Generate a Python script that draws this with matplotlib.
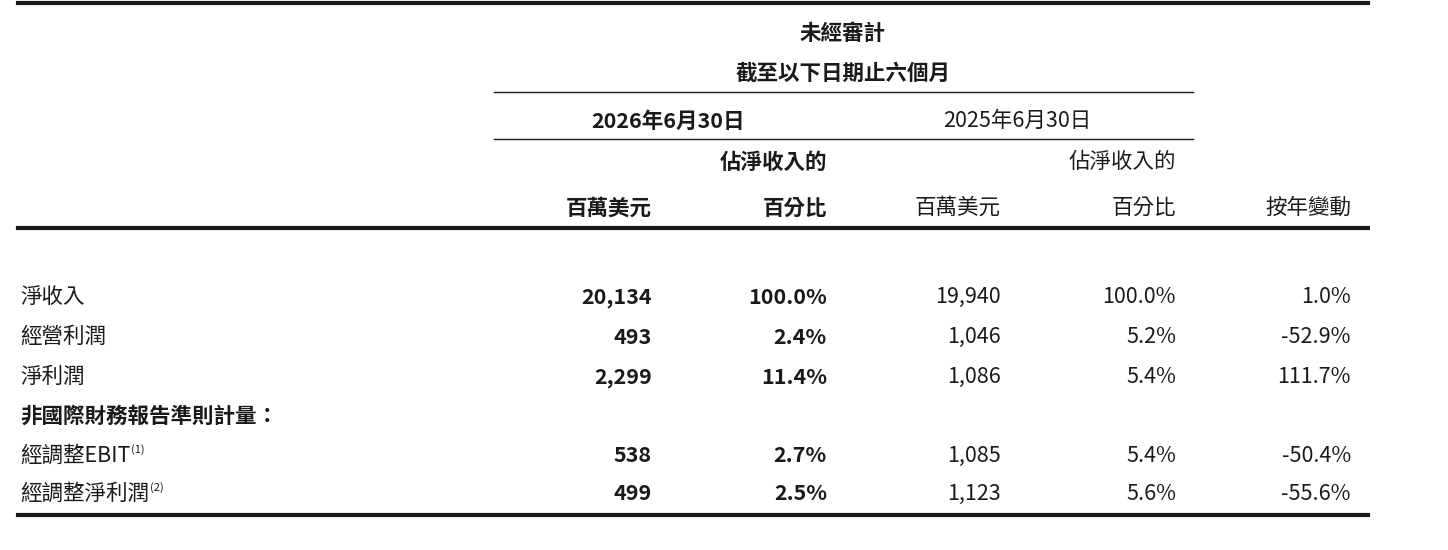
import matplotlib
matplotlib.use("Agg")
import matplotlib.pyplot as plt

plt.rcParams['font.family'] = ['Noto Sans CJK TC', 'DejaVu Sans']

row_labels = ["淨收入", "經營利潤", "淨利潤", "非國際財務報告準則計量：", "經調整EBIT", "經調整淨利潤"]
row_sup = ["", "", "", "", "(1)", "(2)"]
cur_usd = ["20,134", "493", "2,299", "", "538", "499"]
cur_pct = ["100.0%", "2.4%", "11.4%", "", "2.7%", "2.5%"]
prev_usd = ["19,940", "1,046", "1,086", "", "1,085", "1,123"]
prev_pct = ["100.0%", "5.2%", "5.4%", "", "5.4%", "5.6%"]
yoy = ["1.0%", "-52.9%", "111.7%", "", "-50.4%", "-55.6%"]

W, H = 1448, 550
fig = plt.figure(figsize=(W/100, H/100), dpi=100)
ax = fig.add_axes([0, 0, 1, 1])
ax.set_xlim(0, W); ax.set_ylim(H, 0); ax.axis('off')
c = '#1a1a1a'
fs = 15.5

def T(x, y, s, ha='right', bold=False, size=fs):
    return ax.text(x, y, s, ha=ha, va='center', fontsize=size, color=c,
                   fontweight='bold' if bold else 'normal')

ax.plot([18, 1368], [3, 3], color=c, lw=3)
ax.plot([494, 1193], [92, 92], color=c, lw=1)
ax.plot([494, 1193], [139, 139], color=c, lw=1)
ax.plot([18, 1368], [228, 228], color=c, lw=3)
ax.plot([18, 1368], [515, 515], color=c, lw=3)

T(843, 33, "未經審計", ha='center', bold=True)
T(843, 73, "截至以下日期止六個月", ha='center', bold=True)
T(668, 121, "2026年6月30日", ha='center', bold=True)
T(1017, 121, "2025年6月30日", ha='center')
T(827, 162, "佔淨收入的", bold=True)
T(1176, 162, "佔淨收入的")
T(652, 208, "百萬美元", bold=True)
T(827, 208, "百分比", bold=True)
T(1001, 208, "百萬美元")
T(1176, 208, "百分比")
T(1351, 208, "按年變動")

ys = [297, 337, 377, 416, 456, 494]
fig.canvas.draw()
r = fig.canvas.get_renderer()
for i, y in enumerate(ys):
    t = T(20, y, row_labels[i], ha='left', bold=(i == 3))
    if row_sup[i]:
        bb = t.get_window_extent(renderer=r)
        ax.text(bb.x1 + 1, y - 6, row_sup[i], ha='left', va='center', fontsize=8, color=c)
    T(652, y, cur_usd[i], bold=True)
    T(827, y, cur_pct[i], bold=True)
    T(1001, y, prev_usd[i])
    T(1176, y, prev_pct[i])
    T(1351, y, yoy[i])

fig.savefig("out.png", dpi=100)
